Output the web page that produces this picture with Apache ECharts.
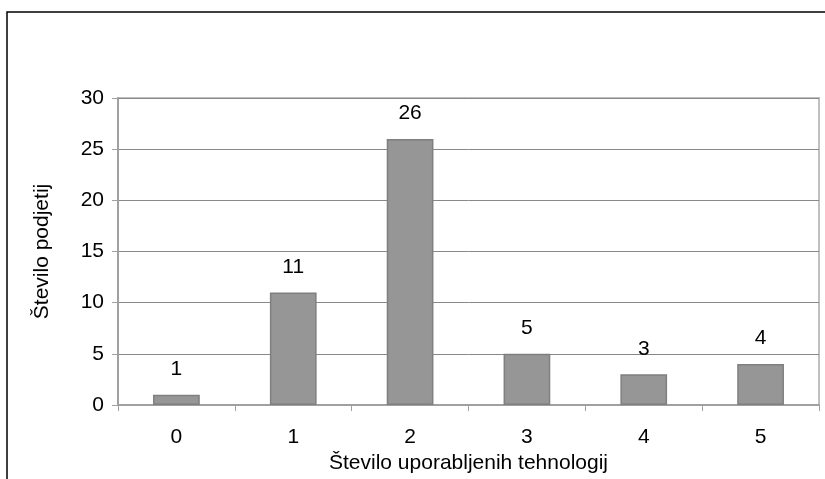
<!DOCTYPE html>
<html>
<head>
<meta charset="utf-8">
<script src="https://cdn.jsdelivr.net/npm/echarts@6/dist/echarts.min.js"></script>
<style>
  html, body { margin: 0; padding: 0; background: #fff; }
  #chart { width: 825px; height: 479px; }
</style>
</head>
<body>
<div id="chart"></div>
<script>
// Number of companies by number of technologies used
const categories = ['0', '1', '2', '3', '4', '5'];
const companies = [1, 11, 26, 5, 3, 4];
const yTicks = { min: 0, max: 30, interval: 5 };

const FONT = '"Liberation Sans", Arial, sans-serif';
const FS = 21;
const chart = echarts.init(document.getElementById('chart'), null, { renderer: 'canvas' });

chart.setOption({
  backgroundColor: '#ffffff',
  animation: false,
  graphic: [{
    type: 'rect',
    shape: { x: 7, y: 12, width: 900, height: 600 },
    style: { fill: 'none', stroke: '#000', lineWidth: 1.5 },
    silent: true,
    z: -1
  }],
  grid: {
    left: 118, right: 6, top: 98, bottom: 69,
    show: true, borderColor: '#c0c0c0', borderWidth: 2, backgroundColor: 'transparent'
  },
  xAxis: {
    type: 'category',
    data: categories,
    boundaryGap: true,
    name: 'Število uporabljenih tehnologij',
    nameLocation: 'middle',
    nameGap: 48,
    nameTextStyle: { fontFamily: FONT, fontSize: FS, color: '#000' },
    axisLine: { lineStyle: { color: '#a0a0a0', width: 2 } },
    axisTick: { show: true, interval: 0, length: 6, lineStyle: { color: '#a0a0a0', width: 1 } },
    axisLabel: { fontFamily: FONT, fontSize: FS, color: '#000', margin: 22, interval: 0 },
    splitLine: { show: false }
  },
  yAxis: {
    type: 'value',
    min: yTicks.min, max: yTicks.max, interval: yTicks.interval,
    name: 'Število podjetij',
    nameLocation: 'middle',
    nameGap: 65,
    nameRotate: 90,
    nameTextStyle: { fontFamily: FONT, fontSize: FS, color: '#000' },
    axisLine: { show: true, lineStyle: { color: '#a0a0a0', width: 2 } },
    axisTick: { show: true, length: 6, lineStyle: { color: '#a0a0a0', width: 1 } },
    axisLabel: { fontFamily: FONT, fontSize: FS, color: '#000', margin: 14 },
    splitLine: { show: true, lineStyle: { color: '#888888', width: 1 } }
  },
  series: [{
    type: 'bar',
    data: companies,
    barWidth: '40%',
    itemStyle: { color: '#969696', borderColor: '#7f7f7f', borderWidth: 1.5 },
    label: {
      show: true, position: 'top', distance: 15,
      fontFamily: FONT, fontSize: FS, color: '#000'
    }
  }]
});
</script>
</body>
</html>
